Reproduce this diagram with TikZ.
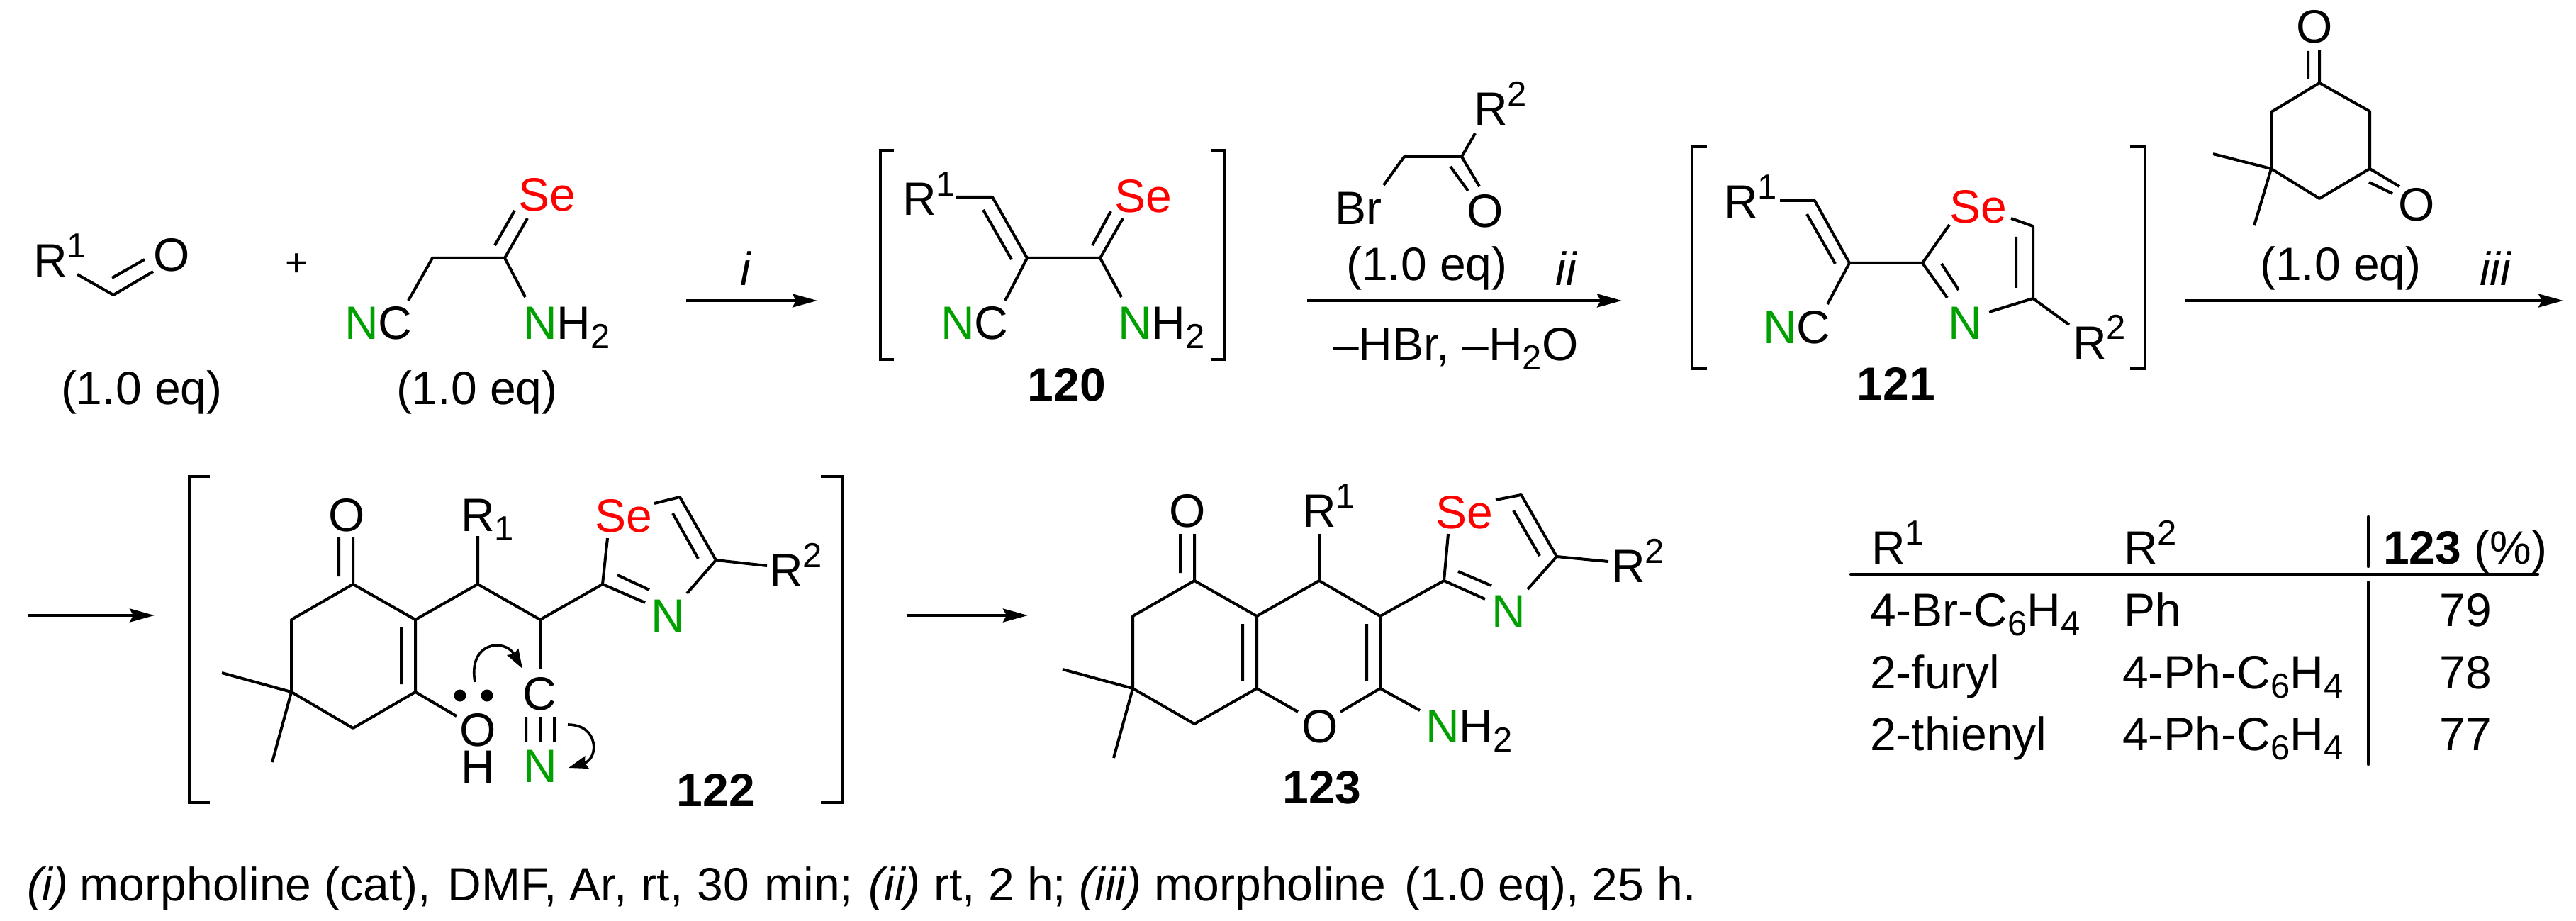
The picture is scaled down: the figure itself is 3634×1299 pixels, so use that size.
\documentclass[tikz,border=0pt]{standalone}
\usepackage{fontspec}
\setmainfont{Liberation Sans}
\usetikzlibrary{arrows.meta}
\definecolor{segreen}{RGB}{0,160,0}
\definecolor{sered}{RGB}{255,0,0}
\newcommand\gN{\textcolor{segreen}{N}}
\newcommand\rSe{\textcolor{sered}{Se}}
\newcommand\Up[1]{\raisebox{13.5pt}{\fontsize{24.5}{28}\selectfont #1}}
\newcommand\Dn[1]{\raisebox{-6.5pt}{\fontsize{24.5}{28}\selectfont #1}}
\tikzset{
  bond/.style={line width=2pt,line join=round},
  brk/.style={line width=2pt,line join=miter},
  rxn/.style={line width=2pt,-{Stealth[length=17.5pt,width=9.5pt,inset=2.5pt]}},
  push/.style={line width=1.8pt,-{Stealth[length=13.5pt,width=9pt,inset=1.5pt]}},
  rule/.style={line width=2.2pt,line cap=round},
  tl/.style={inner sep=0pt,outer sep=0pt,anchor=base west,font=\fontsize{33}{40}\selectfont},
  tc/.style={inner sep=0pt,outer sep=0pt,anchor=base,font=\fontsize{33}{40}\selectfont},
}
\begin{document}
\begin{tikzpicture}[x=0.5pt,y=-0.5pt]
\useasboundingbox (0,0) rectangle (3634,1299);
\fill[white] (0,0) rectangle (3634,1299);
% named points
\foreach \n/\x/\y in {
 a1/109/387,a2/160/416,a3/216/383,a4/158/392,a5/204/366,
 t1/610/364,t2/712/364,t3/744/308,t4/698/346,t5/726/297,t6/741/419,t7/576/424,
 A1s/968/424,A1e/1153/424,
 bl1/1261/212,bl2/1242/212,bl3/1242/507,bl4/1261/507,br1/1708/212,br2/1728/212,br3/1728/507,br4/1708/507,
 b1/1349/278,b2/1400/278,b3/1449/364,b4/1387/296,b5/1427/366,b6/1552/364,b7/1584/308,b8/1541/346,b9/1567/298,b10/1582/419,b11/1418/424,
 c1/1952/261,c2/1981/221,c3/2062/221,c4/2081/188,c5/2087/263,c6/2046/235,c7/2071/269,
 A2s/1844/424,A2e/2288/424,
 dl1/2408/207,dl2/2387/207,dl3/2387/520,dl4/2408/520,dr1/3005/207,dr2/3026/207,dr3/3026/520,dr4/3005/520,
 d1/2511/283,d2/2560/283,d3/2609/371,d4/2549/302,d5/2589/372,d6/2712/371,d7/2750/317,d8/2837/308,d9/2868/319,d10/2868/421,d11/2844/334,d12/2844/406,d13/2806/440,d14/2747/420,d15/2739/372,d16/2763/409,d17/2919/458,d18/2578/429,
 e1/3272/117,e2/3204/158,e3/3204/238,e4/3272/280,e5/3343/238,e6/3343/157,e7/3272/71,e8/3256/111,e9/3256/72,e10/3122/217,e11/3180/318,e12/3385/263,e13/3342/257,e14/3375/273,
 A3s/3083/424,A3e/3616/424,
 A4s/40/868,A4e/218/868,
 fl1/296/672,fl2/267/672,fl3/267/1132,fl4/296/1132,fr1/1158/672,fr2/1188/672,fr3/1188/1132,fr4/1158/1132,
 f1/498/824,f2/411/874,f3/411/976,f4/498/1027,f5/586/976,f6/586/874,f7/566/885,f8/566/965,f9/498/758,f10/478/813,f11/478/758,
 f12/674/824,f13/762/874,f14/850/824,f15/674/756,f16/857/759,f17/923/710,f18/959/701,f19/1010/790,f20/949/724,f21/985/788,f22/1082/798,f23/969/837,f24/910/850,f25/871/811,f26/916/832,f27/762/943,
 f28/742/1011,f29/742/1046,f30/762/1011,f31/762/1046,f32/782/1011,f33/782/1046,f34/644/1010,f35/313/949,f36/384/1075,
 p1/670/962,p2/737/943,p3/801/1022,p4/802/1083,
 A5s/1279/868,A5e/1450/868,
 g1/1685/819,g2/1598/869,g3/1598/971,g4/1685/1021,g5/1773/971,g6/1773/869,g7/1753/880,g8/1753/960,g9/1685/753,g10/1665/808,g11/1665/753,
 g12/1861/819,g13/1861/753,g14/1947/869,g15/1947/971,g16/1928/880,g17/1928/960,g18/1831/1004,g19/1891/1004,g20/2003/1002,
 g21/2037/819,g22/2043/753,g23/2110/705,g24/2146/698,g25/2196/785,g26/2135/720,g27/2172/784,g28/2269/792,g29/2155/831,g30/2095/845,g31/2057/806,g32/2104/826,g33/1499/944,g34/1571/1069,
 r1/2611/810,r2/3580/810,v1/3341/729,v2/3341/799,v3/3341/821,v4/3341/1078}
 {\coordinate (\n) at (\x,\y);}
% aldehyde
\node[tl] (tR1a) at (47,391) {R\Up{1}};
\node[tc] (tOa) at (242,383) {O};
\draw[bond] (a1)--(a2)--(a3) (a4)--(a5);
\node[tc,font=\fontsize{27.5}{32}\selectfont] (plus) at (419,390) {+};
\node[tl] (eq1) at (86,570) {(1.0 eq)};
% selenoamide
\node[tc] (tSe1) at (772,298) {\rSe};
\node[tl] (tNC1) at (486,478) {\gN C};
\node[tl] (tNH1) at (738,478) {\gN H\Dn{2}};
\node[tl] (eq2) at (559,570) {(1.0 eq)};
\draw[bond] (t7)--(t1)--(t2)--(t6) (t2)--(t3) (t4)--(t5);
% arrow i
\node[tc,font=\fontsize{33}{40}\selectfont\itshape] (ti) at (1052,402) {i};
\draw[rxn] (A1s)--(A1e);
% 120
\draw[brk] (bl1)--(bl2)--(bl3)--(bl4) (br1)--(br2)--(br3)--(br4);
\node[tl] (tR120) at (1273,304) {R\Up{1}};
\node[tc] (tSe120) at (1613,300) {\rSe};
\node[tl] (tNC120) at (1327,478) {\gN C};
\node[tl] (tNH120) at (1577,478) {\gN H\Dn{2}};
\draw[bond] (b1)--(b2)--(b3)--(b6)--(b10) (b4)--(b5) (b6)--(b7) (b8)--(b9) (b3)--(b11);
\node[tc,font=\fontsize{33}{40}\selectfont\bfseries] (n120) at (1505,565) {120};
% bromoketone
\node[tl] (tR2c) at (2079,177) {R\Up{2}};
\node[tl] (tBr) at (1883,317) {Br};
\node[tc] (tOc) at (2095,321) {O};
\draw[bond] (c1)--(c2)--(c3)--(c4) (c3)--(c5) (c6)--(c7);
\node[tl] (eq3) at (1899,395) {(1.0 eq)};
\node[tc,font=\fontsize{33}{40}\selectfont\itshape] (tii) at (2209,402) {ii};
\draw[rxn] (A2s)--(A2e);
\node[tl] (loss) at (1880,508) {--HBr, --H\Dn{2}O};
% 121
\draw[brk] (dl1)--(dl2)--(dl3)--(dl4) (dr1)--(dr2)--(dr3)--(dr4);
\node[tl] (tR121) at (2432,308) {R\Up{1}};
\node[tl] (tNC121) at (2487,484) {\gN C};
\node[tc] (tSe121) at (2791,315) {\rSe};
\node[tc] (tN121) at (2772,478) {\gN};
\node[tl] (tR2121) at (2924,506) {R\Up{2}};
\draw[bond] (d1)--(d2)--(d3)--(d6)--(d7) (d4)--(d5) (d8)--(d9)--(d10)--(d13) (d11)--(d12) (d6)--(d14) (d15)--(d16) (d10)--(d17) (d3)--(d18);
\node[tc,font=\fontsize{33}{40}\selectfont\bfseries] (n121) at (2675,564) {121};
% dimedone
\node[tc] (tOe1) at (3265,61) {O};
\node[tc] (tOe2) at (3409,312) {O};
\draw[bond] (e1)--(e2)--(e3)--(e4)--(e5)--(e6)--cycle (e1)--(e7) (e8)--(e9) (e3)--(e10) (e3)--(e11) (e5)--(e12) (e13)--(e14);
\node[tl] (eq4) at (3188,395) {(1.0 eq)};
\node[tc,font=\fontsize{33}{40}\selectfont\itshape] (tiii) at (3520,402) {iii};
\draw[rxn] (A3s)--(A3e);
% 122
\draw[rxn] (A4s)--(A4e);
\draw[brk] (fl1)--(fl2)--(fl3)--(fl4) (fr1)--(fr2)--(fr3)--(fr4);
\node[tc] (tOf) at (489,749) {O};
\node[tl] (tR122) at (650,749) {R\Dn{1}};
\node[tc] (tSe122) at (880,750) {\rSe};
\node[tl] (tR2122) at (1085,827) {R\Up{2}};
\node[tc] (tN122) at (942,891) {\gN};
\node[tc] (tC122) at (761,1001) {C};
\node[tc] (tNn122) at (762,1103) {\gN};
\node[tc] (tOH) at (674,1052) {O};
\node[tc] (tH) at (674,1104) {H};
\draw[bond] (f1)--(f2)--(f3)--(f4)--(f5)--(f6)--cycle (f7)--(f8) (f1)--(f9) (f10)--(f11)
 (f6)--(f12)--(f13)--(f14) (f12)--(f15) (f14)--(f16) (f17)--(f18)--(f19)--(f23) (f20)--(f21) (f19)--(f22) (f14)--(f24) (f25)--(f26) (f13)--(f27)
 (f28)--(f29) (f30)--(f31) (f32)--(f33) (f5)--(f34) (f3)--(f35) (f3)--(f36);
\fill (649,981) circle (8.5) (687,981) circle (8.5);
\draw[push] (p1) .. controls (660,905) and (712,900) .. (p2);
\draw[push] (p3) .. controls (845,1022) and (845,1070) .. (p4);
\node[tc,font=\fontsize{33}{40}\selectfont\bfseries] (n122) at (1010,1137) {122};
% 123
\draw[rxn] (A5s)--(A5e);
\node[tc] (tOg) at (1675,743) {O};
\node[tl] (tR123) at (1837,743) {R\Up{1}};
\node[tc] (tOr) at (1862,1047) {O};
\node[tl] (tNH123) at (2011,1047) {\gN H\Dn{2}};
\node[tc] (tSe123) at (2066,745) {\rSe};
\node[tc] (tN123) at (2128,885) {\gN};
\node[tl] (tR2123) at (2273,821) {R\Up{2}};
\draw[bond] (g1)--(g2)--(g3)--(g4)--(g5)--(g6)--cycle (g7)--(g8) (g1)--(g9) (g10)--(g11)
 (g6)--(g12)--(g14)--(g15) (g12)--(g13) (g16)--(g17) (g5)--(g18) (g15)--(g19) (g15)--(g20)
 (g14)--(g21)--(g22) (g23)--(g24)--(g25)--(g29) (g26)--(g27) (g25)--(g28) (g21)--(g30) (g31)--(g32) (g3)--(g33) (g3)--(g34);
\node[tc,font=\fontsize{33}{40}\selectfont\bfseries] (n123) at (1865,1133) {123};
% table
\node[tl] (h1) at (2640,795) {R\Up{1}};
\node[tl] (h2) at (2996,795) {R\Up{2}};
\node[tl] (h3) at (3362,795) {\textbf{123} (\%)};
\draw[rule] (r1)--(r2);
\draw[rule] (v1)--(v2) (v3)--(v4);
\node[tl] (c11) at (2638,883) {4-Br-C\Dn{6}H\Dn{4}};
\node[tl] (c12) at (2996,883) {Ph};
\node[tc] (c13) at (3478,883) {79};
\node[tl] (c21) at (2638,971) {2-furyl};
\node[tl] (c22) at (2994,971) {4-Ph-C\Dn{6}H\Dn{4}};
\node[tc] (c23) at (3478,971) {78};
\node[tl] (c31) at (2638,1058) {2-thienyl};
\node[tl] (c32) at (2994,1058) {4-Ph-C\Dn{6}H\Dn{4}};
\node[tc] (c33) at (3478,1058) {77};
% conditions
\node[tl] (cap) at (38,1270) {\textit{(i)}\hspace{-1pt} morpholine (cat),\hspace{2.5pt} DMF, Ar,\hspace{1pt} rt,\hspace{1pt} 30\hspace{1.5pt} min;\hspace{2pt} \textit{(ii)} rt, 2 h; \textit{(iii)} morpholine\hspace{4pt} (1.0 eq), 25 h.};
\end{tikzpicture}
\end{document}
